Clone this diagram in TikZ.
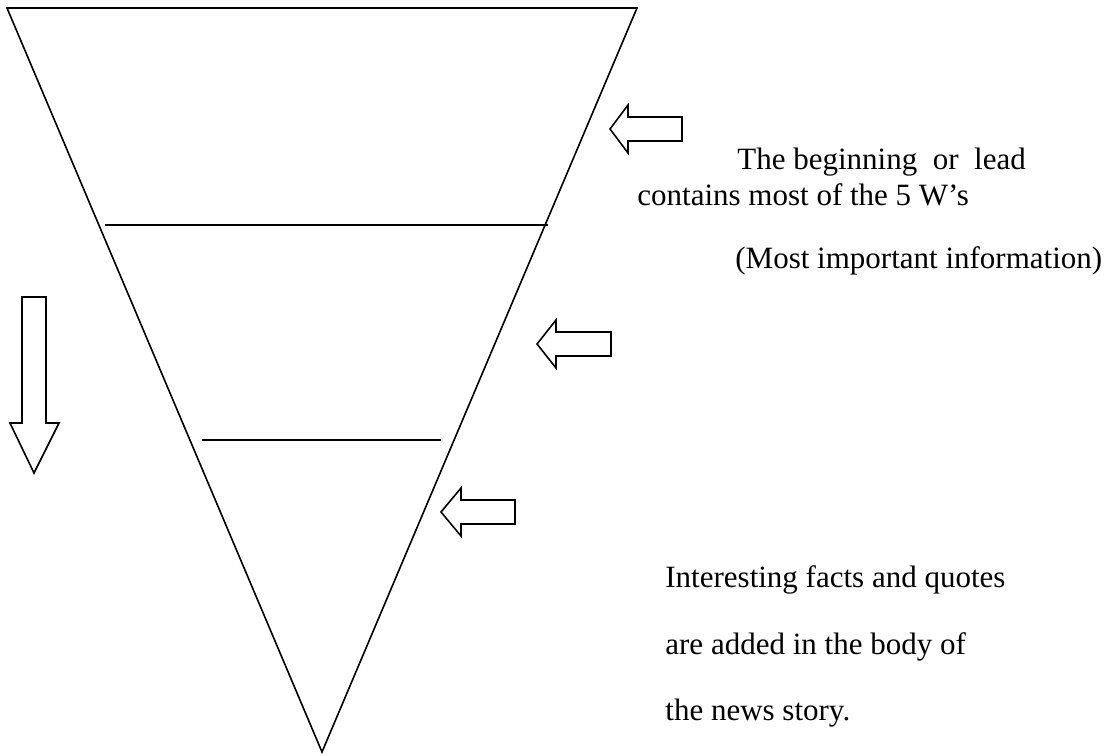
\documentclass[tikz,border=0pt]{standalone}
\usepackage{fontspec}
\setmainfont{Liberation Serif}
\usetikzlibrary{positioning}
\tikzstyle{outline} = [draw=black, line width=0.8pt, line join=miter]
\tikzstyle{blockarrow} = [draw=black, line width=0.8pt, fill=white, line join=miter]
\tikzstyle{note} = [anchor=base west, inner sep=0pt, font=\fontsize{15.5}{18}\selectfont]

\begin{document}
\begin{tikzpicture}[x=0.5pt, y=-0.5pt]

\useasboundingbox (0,0) rectangle (1118,755);

% inverted pyramid
\coordinate (tl) at (7,8);
\coordinate (tr) at (637,8);
\coordinate (apex) at (322,752);
\draw [outline] (tl) -- (tr) -- (apex) -- cycle;
\draw [outline] (105,225) -- (548,225);
\draw [outline] (202,440) -- (441,440);

% block arrows pointing at the pyramid
\draw [blockarrow] (610,129) -- (628,105) -- (628,117) -- (682,117) -- (682,141) -- (628,141) -- (628,153) -- cycle;
\draw [blockarrow] (537,344) -- (556,320) -- (556,332) -- (611,332) -- (611,356) -- (556,356) -- (556,368) -- cycle;
\draw [blockarrow] (441,512) -- (461,488) -- (461,500) -- (515,500) -- (515,524) -- (461,524) -- (461,536) -- cycle;

% downward arrow
\draw [blockarrow] (34,473) -- (10,423) -- (22,423) -- (22,297) -- (46,297) -- (46,423) -- (59,423) -- cycle;

% texts
\node (lead1) [note] at (737,169) {The beginning\ \ or\ \ lead};
\node (lead2) [note] at (637,205) {contains most of the 5 W’s};
\node (lead3) [note] at (735,268) {(Most important information)};
\node (body1) [note] at (665,587) {Interesting facts and quotes};
\node (body2) [note] at (665,654) {are added in the body of};
\node (body3) [note] at (665,720) {the news story.};

\end{tikzpicture}
\end{document}
